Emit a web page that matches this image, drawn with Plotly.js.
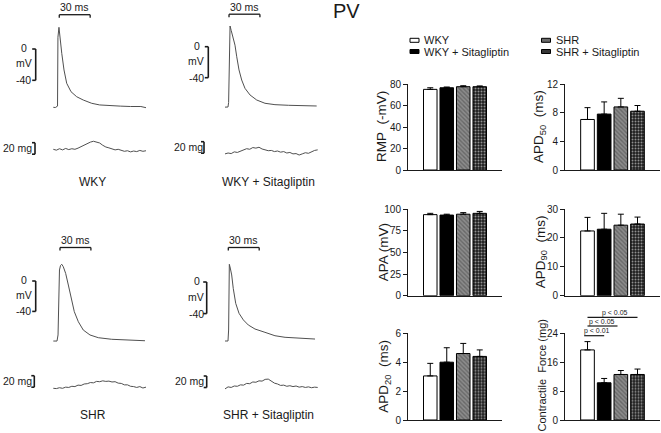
<!DOCTYPE html>
<html><head><meta charset="utf-8">
<script src="https://cdn.plot.ly/plotly-3.0.1.min.js"></script>
<style>html,body{margin:0;padding:0;background:#fff}#chart{width:661px;height:433px}</style>
</head><body><div id="chart"></div>
<script>
// ================= DATA =================
const groups = ['WKY', 'WKY + Sitagliptin', 'SHR', 'SHR + Sitagliptin'];

// Action potentials: time (ms) and membrane potential (mV)
const apT_WKY  = [0, 2, 4.1, 4.5, 5.5, 6.5, 8.2, 10.4, 13, 17.2, 22.7, 29.1, 37.3, 45, 55, 65, 75, 85, 90];
const apV_WKY  = [-74.5, -74.8, -73, 15, 27.7, 12, -5.5, -26.8, -43.8, -54.6, -61, -65.2, -69.4, -71.5, -72.5, -73, -73.5, -73.5, -75];
const apT_WKYS = [0, 2.9, 3.5, 4.2, 4.9, 6, 7.1, 9.7, 11.4, 13.6, 16.2, 19.4, 24.3, 30.8, 38.8, 48.5, 61.5, 74.5, 89];
const apV_WKYS = [-78, -77.8, -72, 15, 26.7, 21, 15, 2, -13, -30, -43, -53.7, -62.3, -68.8, -73, -74.8, -75.6, -75.6, -76.5];
const apT_SHR  = [0, 3.6, 4.6, 5.2, 6, 7, 8.2, 9.7, 12, 14.6, 17.2, 20.4, 24.3, 29.1, 35.6, 43.7, 56.7, 72.8, 89];
const apV_SHR  = [-79, -79, -71, -11.8, 14.5, 20.4, 22, 18.8, 10, -5.3, -22.8, -40.4, -53.6, -64.5, -71, -74.6, -76.7, -77.6, -78.6];
const apT_SHRS = [0, 2.9, 3.5, 3.9, 4.2, 5.1, 6.5, 8, 10.4, 13.6, 17.8, 22.6, 29.1, 38.8, 48.5, 58.3, 71.2, 87.4];
const apV_SHRS = [-74.7, -74.7, -60.8, -3.8, 22.4, 17.7, 8.9, -8, -27, -39.6, -48, -54.4, -59.5, -63.7, -68, -70, -71.3, -72.2];

// Contraction traces: time (ms) and force (mg, relative to baseline)
const ctT      = [0, 3, 6, 9, 12, 15, 18, 21, 24, 27, 30, 33, 36, 39, 42, 45, 48, 51, 54, 57, 60, 63, 66, 69, 72, 75, 78, 81, 84, 87, 90];
const ct_WKY   = [0, -1.5, 1, -1, 1.5, -0.5, 1, 0, 2, 4.5, 8, 10, 12.5, 14, 13, 11, 7, 4, 2.5, 1, -1, 0, -2, -3.5, -2.5, -4.5, -3, -4, -2, -3.5, -2.5];
const ct_WKYS  = [-1, 0.5, -0.5, 2.5, 1.5, 4, 6.5, 8, 7, 10, 9, 10.5, 7.5, 6, 4.5, 5, 3, 4, 2, 3, 0.5, 1.5, -1, -0.5, -3, -1, 1, 0, 3, 5, 6];
const ct_SHR   = [0, -0.5, 1, 0, 2, 1.5, 3.5, 3, 5.5, 5, 7.5, 8, 10, 9.5, 12, 11.5, 13, 12, 12.5, 11, 11.5, 9, 8.5, 6, 6, 3.5, 3, 1.5, 3, 0.5, 2];
const ct_SHRS  = [-1, 2.5, 1.5, 4, 3.5, 6, 5.5, 8.5, 8, 11, 10.5, 13, 12.5, 15.5, 16, 12, 9, 7.5, 5, 5.5, 3.5, 4.5, 3, 4, 2, 3, 1.5, 2.5, 1, 2, 1.5];

// Bar summaries (mean and upper SEM)
const rmp      = [75, 76.5, 77.5, 77.5];   const rmpErr   = [1.5, 0.7, 0.9, 0.7];
const apd50    = [7.05, 7.8, 8.8, 8.2];    const apd50Err = [1.65, 1.7, 1.2, 0.8];
const apa      = [93.5, 93, 94, 95];       const apaErr   = [1.5, 1, 1.8, 2.2];
const apd90    = [22.4, 23, 24.4, 24.8];   const apd90Err = [4.7, 5.5, 3.8, 2.4];
const apd20    = [3.05, 4.0, 4.6, 4.4];    const apd20Err = [0.87, 1.0, 0.7, 0.45];
const force    = [19.4, 10.3, 12.6, 12.6]; const forceErr = [2.3, 1.2, 1.1, 1.5];

const rmpTicks = [0, 20, 40, 60, 80];
const apd50Ticks = [0, 4, 8, 12];
const apaTicks = [0, 25, 50, 75, 100];
const apd90Ticks = [0, 10, 20, 30];
const apd20Ticks = [0, 2, 4, 6];
const forceTicks = [0, 8, 16, 24];

const sigLabels = ['p < 0.01', 'p < 0.05', 'p < 0.05'];

// ================= LAYOUT HELPERS =================
const W = 661, H = 433;
const PX = v => v / W;
const PY = v => 1 - v / H;
const xd = (a, b) => [PX(a), PX(b)];
const yd = (top, bot) => [PY(bot), PY(top)];
const xn = n => n === 1 ? 'xaxis' : 'xaxis' + n;
const yn = n => n === 1 ? 'yaxis' : 'yaxis' + n;
const xr = n => n === 1 ? 'x' : 'x' + n;
const yr = n => n === 1 ? 'y' : 'y' + n;

const FONT = 'Liberation Sans, Arial, sans-serif';
const INK = '#1a1a1a';
const traceColor = '#505050';

const layout = {
  width: W, height: H,
  margin: {l: 0, r: 0, t: 0, b: 0},
  paper_bgcolor: '#fff', plot_bgcolor: 'rgba(0,0,0,0)',
  showlegend: false,
  font: {family: FONT, color: INK},
  shapes: [], annotations: []
};
const data = [];

function seg(x0, y0, x1, y1, xref, yref, w) {
  layout.shapes.push({type: 'line', x0, y0, x1, y1, xref, yref, line: {color: INK, width: w}});
}
function txt(text, x, y, xref, yref, size, extra) {
  layout.annotations.push(Object.assign({text, x, y, xref, yref, showarrow: false,
    font: {size, family: FONT, color: INK}, xanchor: 'center', yanchor: 'middle'}, extra || {}));
}

// ================= TRACE PANELS =================
const PXMS = 1.03, PXMG = 0.575;
const tracePanels = [
  {label: 'WKY', t: apT_WKY, v: apV_WKY, ct: ct_WKY, col: 0, row: 0, t0: 53.3, zero: 49, mvPx: 0.7825, base: 149.3,
   barStart: 5.8, barY: 14.7, brX: 35.7, lblX: 23.5, mgTop: 142.7, mgX: 35, mgTxtX: 17, mgTxtY: 148},
  {label: 'WKY + Sitagliptin', t: apT_WKYS, v: apV_WKYS, ct: ct_WKYS, col: 1, row: 0, t0: 225, zero: 46.7, mvPx: 0.775, base: 153.3,
   barStart: 3.9, barY: 14.2, brX: 208.3, lblX: 196, mgTop: 141.7, mgX: 204, mgTxtX: 188.7, mgTxtY: 147},
  {label: 'SHR', t: apT_SHR, v: apV_SHR, ct: ct_SHR, col: 0, row: 1, t0: 53.3, zero: 281, mvPx: 0.76, base: 388.3,
   barStart: 6.5, barY: 247.5, brX: 35.7, lblX: 23.5, mgTop: 375.7, mgX: 34.3, mgTxtX: 17, mgTxtY: 381},
  {label: 'SHR + Sitagliptin', t: apT_SHRS, v: apV_SHRS, ct: ct_SHRS, col: 1, row: 1, t0: 225, zero: 282, mvPx: 0.79, base: 388.3,
   barStart: 3.2, barY: 247.5, brX: 206.7, lblX: 196, mgTop: 376, mgX: 206.7, mgTxtX: 189, mgTxtY: 381}
];
const colDom = [[40, 162], [212, 332]];
const apDom = [[18, 122], [250, 352]];
const ctDom = [[128, 168], [360, 402]];
const labelY = [181.7, 415];
const labelX = [93, 268];

tracePanels.forEach((p, i) => {
  const xi = i + 1, ya = 2 * i + 1, yc = 2 * i + 2;
  const cd = colDom[p.col], ad = apDom[p.row], kd = ctDom[p.row];
  layout[xn(xi)] = {domain: xd(cd[0], cd[1]), range: [(cd[0] - p.t0) / PXMS, (cd[1] - p.t0) / PXMS],
    visible: false, fixedrange: true, anchor: yr(ya)};
  layout[yn(ya)] = {domain: yd(ad[0], ad[1]), range: [(p.zero - ad[1]) / p.mvPx, (p.zero - ad[0]) / p.mvPx],
    visible: false, fixedrange: true, anchor: xr(xi)};
  layout[yn(yc)] = {domain: yd(kd[0], kd[1]), range: [(p.base - kd[1]) / PXMG, (p.base - kd[0]) / PXMG],
    visible: false, fixedrange: true, anchor: xr(xi)};
  data.push({type: 'scatter', mode: 'lines', x: p.t, y: p.v, xaxis: xr(xi), yaxis: yr(ya),
    line: {color: traceColor, width: 1}, hoverinfo: 'skip'});
  data.push({type: 'scatter', mode: 'lines', x: ctT, y: p.ct, xaxis: xr(xi), yaxis: yr(yc),
    line: {color: traceColor, width: 1}, hoverinfo: 'skip'});

  // 30 ms scale bar
  const xa = xr(xi);
  seg(p.barStart, PY(p.barY), p.barStart + 30, PY(p.barY), xa, 'paper', 1.3);
  seg(p.barStart, PY(p.barY), p.barStart, PY(p.barY + 3), xa, 'paper', 1.3);
  seg(p.barStart + 30, PY(p.barY), p.barStart + 30, PY(p.barY + 3), xa, 'paper', 1.3);
  txt('30 ms', p.barStart + 15, PY(p.barY - 7.5), xa, 'paper', 10.5);

  // mV bracket (0 to -40 mV)
  const ay = yr(ya);
  seg(PX(p.brX), 0, PX(p.brX), -40, 'paper', ay, 1.6);
  seg(PX(p.brX - 3.5), 0, PX(p.brX), 0, 'paper', ay, 1.6);
  seg(PX(p.brX - 3.5), -40, PX(p.brX), -40, 'paper', ay, 1.6);
  txt('0', PX(p.lblX + 0.8), 1, 'paper', ay, 10.5);
  txt('mV', PX(p.lblX), -18.5, 'paper', ay, 10.5);
  txt('-40', PX(p.lblX), -40, 'paper', ay, 10.5);

  // 20 mg bracket
  const cy = yr(yc);
  const mgT = (p.base - p.mgTop) / PXMG;
  seg(PX(p.mgX), mgT, PX(p.mgX), mgT - 20, 'paper', cy, 1.6);
  seg(PX(p.mgX - 3), mgT, PX(p.mgX), mgT, 'paper', cy, 1.6);
  seg(PX(p.mgX - 3), mgT - 20, PX(p.mgX), mgT - 20, 'paper', cy, 1.6);
  txt('20 mg', PX(p.mgTxtX), PY(p.mgTxtY), 'paper', 'paper', 10.5);

  txt(p.label, PX(labelX[p.col]), PY(labelY[p.row]), 'paper', 'paper', 12);
});

// ================= BAR PANELS =================
const barCols = [[408, 502], [565, 660]];
const barRows = [[84, 170], [209, 295.7], [333.3, 420]];
const barFill = ['#ffffff', '#000000', '#8c8c8c', '#1e1e1e'];
const legFill = ['#ffffff', '#000000', '#6a6a6a', '#363636'];
const patShape = ['', '', '\\', '.'];
const patFg = ['#000000', '#000000', '#151515', '#a0a0a0'];
const patSolid = [0.3, 0.3, 0.45, 0.35];

const barPanels = [
  {vals: rmp,   err: rmpErr,   range: [0, 80],  ticks: rmpTicks,   title: 'RMP&nbsp; (-mV)', col: 0, row: 0, tx: 382},
  {vals: apd50, err: apd50Err, range: [0, 12],  ticks: apd50Ticks, title: 'APD<sub>50</sub>&nbsp; (ms)', col: 1, row: 0, tx: 540},
  {vals: apa,   err: apaErr,   range: [0, 100], ticks: apaTicks,   title: 'APA (mV)', col: 0, row: 1, tx: 383},
  {vals: apd90, err: apd90Err, range: [0, 30],  ticks: apd90Ticks, title: 'APD<sub>90</sub>&nbsp; (ms)', col: 1, row: 1, tx: 541},
  {vals: apd20, err: apd20Err, range: [0, 6],   ticks: apd20Ticks, title: 'APD<sub>20</sub>&nbsp; (ms)', col: 0, row: 2, tx: 385},
  {vals: force, err: forceErr, range: [0, 24],  ticks: forceTicks, title: 'Contractile&nbsp; Force (mg)', col: 1, row: 2, tx: 541.5, tsize: 11, ty: 376}
];

barPanels.forEach((b, i) => {
  const xi = 5 + i, yi = 9 + i;
  const c = barCols[b.col], r = barRows[b.row];
  layout[xn(xi)] = {domain: xd(c[0], c[1]), range: [-1.35, 4.35], type: 'category', categoryarray: groups,
    showticklabels: false, ticks: '', showline: true, linecolor: INK, linewidth: 1,
    showgrid: false, zeroline: false, fixedrange: true, anchor: yr(yi)};
  layout[yn(yi)] = {domain: yd(r[0], r[1]), range: b.range, tickvals: b.ticks, ticks: 'outside', ticklen: 4,
    tickwidth: 1, tickcolor: INK, showline: true, linecolor: INK, linewidth: 1, showgrid: false, zeroline: false,
    tickfont: {size: 10, family: FONT, color: INK}, fixedrange: true, anchor: xr(xi)};
  txt(b.title, PX(b.tx), PY(b.ty || (r[0] + r[1]) / 2), 'paper', 'paper', b.tsize || 13.5, {textangle: -90});
  data.push({type: 'bar', x: groups, y: b.vals, xaxis: xr(xi), yaxis: yr(yi), width: 0.82,
    marker: {color: barFill, line: {color: '#000', width: 1},
      pattern: {shape: patShape, fgcolor: patFg, size: 3, solidity: patSolid, fillmode: 'overlay'}},
    error_y: {type: 'data', symmetric: false, array: b.err, arrayminus: [0, 0, 0, 0],
      color: '#000', thickness: 1, width: 3},
    hoverinfo: 'x+y'});
});

// significance brackets on contractile force panel (x axis 10)
const sigX = [[-0.2, 1.0], [0, 1.8], [0, 3.0]];
const sigY = [335.7, 326, 317.3];
const sigTxt = [[0.55, 331.2], [0.89, 321.8], [1.63, 312.8]];
sigX.forEach((s, k) => {
  seg(s[0], PY(sigY[k]), s[1], PY(sigY[k]), 'x10', 'paper', 1.2);
  txt(sigLabels[k], sigTxt[k][0], PY(sigTxt[k][1]), 'x10', 'paper', 7);
});

// ================= LEGEND (manual, two columns) =================
const legX = [410, 541.5];
const legY = [40.3, 51.5];
const legOrder = [[0, 0], [1, 0], [0, 1], [1, 1]]; // [row, col] per group
groups.forEach((g, k) => {
  const [rw, cl] = legOrder[k];
  const x0 = legX[cl], yc = legY[rw];
  layout.shapes.push({type: 'rect', xref: 'paper', yref: 'paper', x0: PX(x0), x1: PX(x0 + 9),
    y0: PY(yc + 2), y1: PY(yc - 2), fillcolor: legFill[k], line: {color: '#000', width: 1}});
  txt(g, PX(x0 + 12), PY(yc), 'paper', 'paper', 11, {xanchor: 'left'});
});

// Title
txt('PV', PX(346.5), PY(11), 'paper', 'paper', 20);

Plotly.newPlot('chart', data, layout, {displayModeBar: false, staticPlot: true});
</script>
</body></html>
